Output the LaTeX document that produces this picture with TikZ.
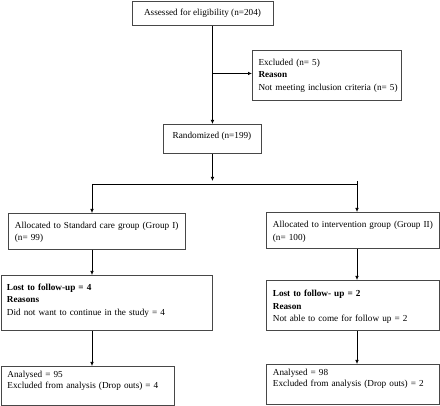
\documentclass[tikz,border=0pt]{standalone}
\usepackage{fontspec}
\setmainfont{Liberation Serif}
\usetikzlibrary{arrows.meta}
\begin{document}
\begin{tikzpicture}[x=1pt,y=-1pt,
  box/.style={draw=black!72, line width=0.9pt, inner sep=0pt, anchor=north west},
  txt/.style={inner sep=0pt, anchor=base west, align=left, text width=200pt, font=\fontsize{9.2}{12.3}\selectfont},
  txts/.style={inner sep=0pt, anchor=base west, align=left, text width=200pt, font=\fontsize{9.2}{10.5}\selectfont},
  ctxt/.style={inner sep=0pt, anchor=base, font=\fontsize{9.2}{12.3}\selectfont},
  ln/.style={line width=0.7pt, draw=black},
  arr/.style={ln, -{Latex[length=4pt,width=3.6pt]}}
]
\useasboundingbox (0,0) rectangle (440,406);
% boxes
\node[box, minimum width=141pt, minimum height=24pt] (assess) at (132,1) {};
\node[box, minimum width=149pt, minimum height=50pt] (excl) at (252,50.5) {};
\node[box, minimum width=98pt, minimum height=29pt] (rand) at (163,124) {};
\node[box, minimum width=177pt, minimum height=36pt] (allocL) at (8,213) {};
\node[box, minimum width=173pt, minimum height=36pt] (allocR) at (266,212) {};
\node[box, minimum width=211pt, minimum height=55.5pt] (lostL) at (0.5,275) {};
\node[box, minimum width=173pt, minimum height=50.5pt] (lostR) at (266,280) {};
\node[box, minimum width=173pt, minimum height=39pt] (anaL) at (1,366) {};
\node[box, minimum width=173pt, minimum height=40pt] (anaR) at (266,364) {};
% texts
\node[ctxt] (tassess) at (202.5,16) {Assessed for eligibility (n=204)};
\node[txt] (texcl) at (258.3,65.5) {Excluded (n= 5)\\\textbf{Reason}\\Not meeting inclusion criteria (n= 5)};
\node[ctxt] (trand) at (212,138.5) {Randomized (n=199)};
\node[txt] (tallocL) at (14.7,228.7) {Allocated to Standard care group (Group I)\\(n= 99)};
\node[txt] (tallocR) at (272.7,228) {Allocated to intervention group (Group II)\\(n= 100)};
\node[txt] (tlostL) at (6.7,290.5) {\textbf{Lost to follow-up = 4}\\\textbf{Reasons}\\Did not want to continue in the study = 4};
\node[txt] (tlostR) at (272.7,297) {\textbf{Lost to follow- up = 2}\\\textbf{Reason}\\Not able to come for follow up = 2};
\node[txts] (tanaL) at (7.3,378) {Analysed = 95\\Excluded from analysis (Drop outs) = 4};
\node[txts] (tanaR) at (272.7,376) {Analysed = 98\\Excluded from analysis (Drop outs) = 2};
% connectors
\coordinate (br) at (rand.north |- excl.west);
\draw[arr] (assess.south -| rand.north) -- (rand.north);
\draw[arr] ([yshift=2.5pt]br) -- ([yshift=2.5pt]excl.west);
\coordinate (colL) at (92,184);
\coordinate (colR) at (357,184);
\draw[arr] (rand.south) -- ([yshift=3pt]rand.south |- colL);
\draw[ln] (colL) -- (colR);
\draw[arr] (colL) -- (colL |- allocL.north);
\draw[arr] ([yshift=3pt]colR) -- (colR |- allocR.north);
\draw[arr] (colL |- allocL.south) -- (colL |- lostL.north);
\draw[arr] (colR |- allocR.south) -- (colR |- lostR.north);
\draw[arr] (colL |- lostL.south) -- (colL |- anaL.north);
\draw[arr] (colR |- lostR.south) -- (colR |- anaR.north);
\end{tikzpicture}
\end{document}
